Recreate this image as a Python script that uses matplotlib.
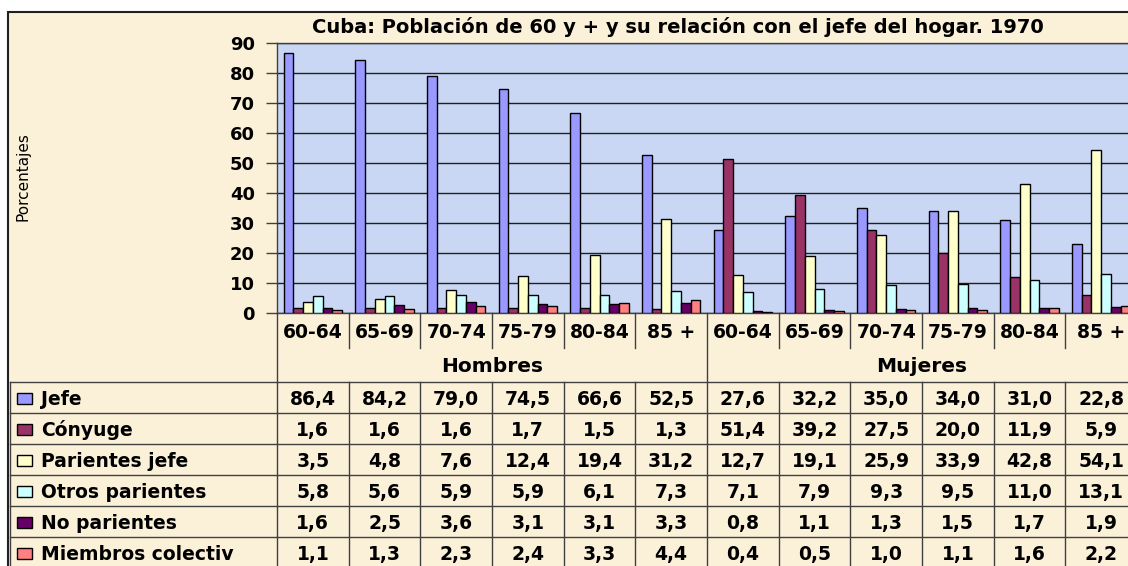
import numpy as np
import matplotlib.pyplot as plt
from matplotlib.patches import Rectangle

# datos (porcentajes)
grupos = ["Hombres", "Mujeres"]
edades = ["60-64", "65-69", "70-74", "75-79", "80-84", "85 +"]
series = ["Jefe", "Cónyuge", "Parientes jefe", "Otros parientes", "No parientes", "Miembros colectiv"]
colores = ["#9999FF", "#993366", "#FFFFCC", "#CCFFFF", "#660066", "#FF8080"]

jefe = [86.4, 84.2, 79.0, 74.5, 66.6, 52.5, 27.6, 32.2, 35.0, 34.0, 31.0, 22.8]
conyuge = [1.6, 1.6, 1.6, 1.7, 1.5, 1.3, 51.4, 39.2, 27.5, 20.0, 11.9, 5.9]
parientes_jefe = [3.5, 4.8, 7.6, 12.4, 19.4, 31.2, 12.7, 19.1, 25.9, 33.9, 42.8, 54.1]
otros_parientes = [5.8, 5.6, 5.9, 5.9, 6.1, 7.3, 7.1, 7.9, 9.3, 9.5, 11.0, 13.1]
no_parientes = [1.6, 2.5, 3.6, 3.1, 3.1, 3.3, 0.8, 1.1, 1.3, 1.5, 1.7, 1.9]
miembros = [1.1, 1.3, 2.3, 2.4, 3.3, 4.4, 0.4, 0.5, 1.0, 1.1, 1.6, 2.2]

valores = [jefe, conyuge, parientes_jefe, otros_parientes, no_parientes, miembros]

plt.rcParams["font.family"] = ["DejaVu Sans"]

W, H = 1128, 566
PL, PR, PT, PB = 277, 1137, 42.5, 313   # plot area in pixels (right edge is cut off)
ROW0, ROWH = 382, 31                     # data table rows
BEIGE = "#FBF0D8"
LINE = "#404040"

fig = plt.figure(figsize=(W / 100, H / 100), dpi=100)
fig.patch.set_facecolor("white")

# background / chart area in pixel coords
bg = fig.add_axes([0, 0, 1, 1])
bg.set_xlim(0, W)
bg.set_ylim(H, 0)
bg.axis("off")
bg.add_patch(Rectangle((8, 12), W + 20, H, facecolor=BEIGE, edgecolor="#202020", lw=1.5))
bg.text(678, 27, "Cuba: Población de 60 y + y su relación con el jefe del hogar. 1970",
        ha="center", va="center", fontsize=14, fontweight="bold")
bg.text(23, 177, "Porcentajes", rotation=90, ha="center", va="center", fontsize=11)

# left column of the data table
bg.plot([10, 10], [ROW0, H], color=LINE, lw=1)
for k in range(len(series) + 1):
    bg.plot([10, PL], [ROW0 + k * ROWH] * 2, color=LINE, lw=1)
for k, (nombre, c) in enumerate(zip(series, colores)):
    yc = ROW0 + (k + 0.5) * ROWH
    bg.add_patch(Rectangle((17, yc - 5), 15, 11, facecolor=c, edgecolor="black", lw=1))
    bg.text(41, yc + 2, nombre, ha="left", va="center", fontsize=13.5, fontweight="bold")

# bar chart
ax = fig.add_axes([PL / W, 1 - PB / H, (PR - PL) / W, (PB - PT) / H])
ax.set_facecolor("#CAD7F4")
x = np.arange(len(edades) * len(grupos)) + 0.5
ancho = 0.135
for k, (vals, c) in enumerate(zip(valores, colores)):
    ax.bar(x + (k - 2.5) * ancho, vals, width=ancho, color=c, edgecolor="black", lw=1, zorder=3)
ax.set_xlim(0, 12)
ax.set_ylim(0, 90)
ax.set_yticks(range(0, 91, 10))
ax.set_xticks([])
ax.yaxis.grid(True, color="#202020", lw=1)
ax.set_axisbelow(True)
ax.tick_params(axis="y", direction="out", length=8, width=1, color=LINE, pad=8)
for lab in ax.get_yticklabels():
    lab.set_fontsize(13)
    lab.set_fontweight("bold")
for s in ax.spines.values():
    s.set_color(LINE)
    s.set_linewidth(1)

# category rows + data table, sharing the x scale of the bars
tab = fig.add_axes([PL / W, 0, (PR - PL) / W, 1 - PB / H], sharex=ax)
tab.set_ylim(H, PB)
tab.axis("off")
tab.patch.set_alpha(0)
n = len(x)
for i in range(n + 1):
    if i % 6 == 0:
        tab.plot([i, i], [PB, H], color=LINE, lw=1, clip_on=False)
    else:
        tab.plot([i, i], [PB, 348], color=LINE, lw=1, clip_on=False)
        tab.plot([i, i], [ROW0, H], color=LINE, lw=1, clip_on=False)
for k in range(len(series) + 1):
    tab.plot([0, n], [ROW0 + k * ROWH] * 2, color=LINE, lw=1, clip_on=False)
for i, xi in enumerate(x):
    tab.text(xi, 332, edades[i % 6], ha="center", va="center", fontsize=13.5, fontweight="bold")
for g, nombre in enumerate(grupos):
    tab.text(g * 6 + 3, 366, nombre, ha="center", va="center", fontsize=14.5, fontweight="bold")
for k, vals in enumerate(valores):
    yc = ROW0 + (k + 0.5) * ROWH + 2
    for xi, v in zip(x, vals):
        tab.text(xi, yc, f"{v:.1f}".replace(".", ","), ha="center", va="center",
                 fontsize=13.5, fontweight="bold")

fig.savefig("out.png", dpi=100)
